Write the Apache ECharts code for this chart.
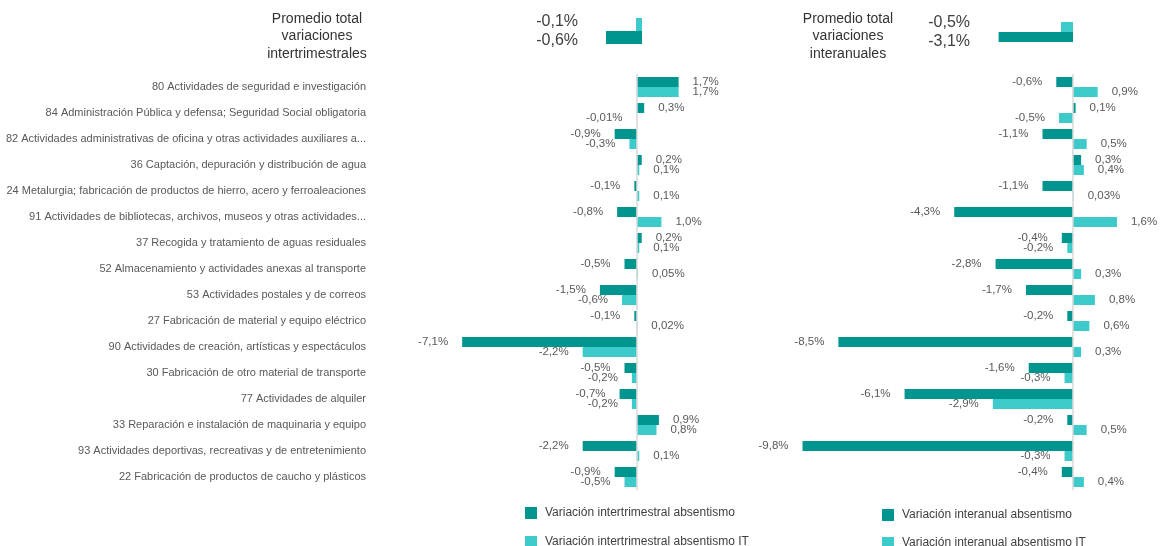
<!DOCTYPE html>
<html><head><meta charset="utf-8">
<script src="https://cdn.jsdelivr.net/npm/echarts@6/dist/echarts.min.js"></script>
<style>html,body{margin:0;padding:0;background:#fff}#c{width:1161px;height:546px}</style>
</head><body><div id="c"></div>
<script>
const categories = [
  "80 Actividades de seguridad e investigación",
  "84 Administración Pública y defensa; Seguridad Social obligatoria",
  "82 Actividades administrativas de oficina y otras actividades auxiliares a...",
  "36 Captación, depuración y distribución de agua",
  "24 Metalurgia; fabricación de productos de hierro, acero y ferroaleaciones",
  "91 Actividades de bibliotecas, archivos, museos y otras actividades...",
  "37 Recogida y tratamiento de aguas residuales",
  "52 Almacenamiento y actividades anexas al transporte",
  "53 Actividades postales y de correos",
  "27 Fabricación de material y equipo eléctrico",
  "90 Actividades de creación, artísticas y espectáculos",
  "30 Fabricación de otro material de transporte",
  "77 Actividades de alquiler",
  "33 Reparación e instalación de maquinaria y equipo",
  "93 Actividades deportivas, recreativas y de entretenimiento",
  "22 Fabricación de productos de caucho y plásticos"
];
const trimAbs  = [1.7, 0.3, -0.9, 0.2, -0.1, -0.8, 0.2, -0.5, -1.5, -0.1, -7.1, -0.5, -0.7, 0.9, -2.2, -0.9];
const trimIT   = [1.7, -0.01, -0.3, 0.1, 0.1, 1.0, 0.1, 0.05, -0.6, 0.02, -2.2, -0.2, -0.2, 0.8, 0.1, -0.5];
const anualAbs = [-0.6, 0.1, -1.1, 0.3, -1.1, -4.3, -0.4, -2.8, -1.7, -0.2, -8.5, -1.6, -6.1, -0.2, -9.8, -0.4];
const anualIT  = [0.9, -0.5, 0.5, 0.4, 0.03, 1.6, -0.2, 0.3, 0.8, 0.6, 0.3, -0.3, -2.9, 0.5, -0.3, 0.4];
const promTrimIT = [-0.1];
const promTrimAbs = [-0.6];
const promAnualIT = [-0.5];
const promAnualAbs = [-3.1];
const names = {
  trimAbs: "Variación intertrimestral absentismo",
  trimIT: "Variación intertrimestral absentismo IT",
  anualAbs: "Variación interanual absentismo",
  anualIT: "Variación interanual absentismo IT"
};
const titleTrim = "Promedio total\nvariaciones\nintertrimestrales";
const titleAnual = "Promedio total\nvariaciones\ninteranuales";

const DARK = '#00958F', LIGHT = '#3CCACA';
const FONT = 'Liberation Sans, Arial, sans-serif';

function fmt(v) {
  const two = Math.abs(v * 10 - Math.round(v * 10)) > 1e-9;
  return v.toFixed(two ? 2 : 1).replace('.', ',') + '%';
}
function barData(arr) {
  return arr.map(v => ({ value: v, label: { position: v < 0 ? 'left' : 'right' } }));
}
const dataLabel = { show: true, distance: 14, fontSize: 11.5, color: '#595959', fontFamily: FONT, formatter: p => fmt(p.value) };

const chart = echarts.init(document.getElementById('c'), null, { renderer: 'canvas' });
const hiddenCat = (grid, data) => ({ type: 'category', gridIndex: grid, data: data, inverse: true, show: false });
const legendItem = (name, left, top) => ({
  data: [name], orient: 'vertical', left: left, top: top, icon: 'rect',
  itemWidth: 12, itemHeight: 12, selectedMode: false, padding: 0, itemGap: 0,
  textStyle: { fontSize: 12, color: '#404040', fontFamily: FONT, padding: [0, 0, 0, 3] }
});
const option = {
  animation: false,
  backgroundColor: '#fff',
  textStyle: { fontFamily: FONT },
  title: [
    { text: titleTrim, left: 317, top: 10, textAlign: 'center', padding: 0,
      textStyle: { fontSize: 14, fontWeight: 'normal', color: '#333', lineHeight: 17.5, fontFamily: FONT } },
    { text: titleAnual, left: 848, top: 10, textAlign: 'center', padding: 0,
      textStyle: { fontSize: 14, fontWeight: 'normal', color: '#333', lineHeight: 17.5, fontFamily: FONT } }
  ],
  legend: [
    legendItem(names.trimAbs, 525, 507),
    legendItem(names.trimIT, 525, 536),
    legendItem(names.anualAbs, 882, 509),
    legendItem(names.anualIT, 882, 537)
  ],
  grid: [
    { left: 582, width: 60, top: 12, height: 38 },
    { left: 977, width: 96, top: 13, height: 38 },
    { left: 440, width: 246, top: 74, height: 416 },
    { left: 797, width: 331, top: 74, height: 416 }
  ],
  xAxis: [
    { type: 'value', gridIndex: 0, min: -1, max: 0, show: false },
    { type: 'value', gridIndex: 1, min: -4, max: 0, show: false },
    { type: 'value', gridIndex: 2, min: -8, max: 2, show: false },
    { type: 'value', gridIndex: 3, min: -10, max: 2, show: false }
  ],
  yAxis: [
    Object.assign(hiddenCat(0, ['p']), { position: 'right' }),
    { type: 'category', gridIndex: 0, inverse: true, position: 'left',
      data: [fmt(promTrimIT[0]), fmt(promTrimAbs[0])],
      axisLine: { show: false }, axisTick: { show: false },
      axisLabel: { interval: 0, margin: 4, fontSize: 16, color: '#404040', fontFamily: FONT } },
    Object.assign(hiddenCat(1, ['p']), { position: 'right' }),
    { type: 'category', gridIndex: 1, inverse: true, position: 'left',
      data: [fmt(promAnualIT[0]), fmt(promAnualAbs[0])],
      axisLine: { show: false }, axisTick: { show: false },
      axisLabel: { interval: 0, margin: 7, fontSize: 16, color: '#404040', fontFamily: FONT } },
    { type: 'category', gridIndex: 2, inverse: true, data: categories,
      axisLine: { show: false, onZero: false }, axisTick: { show: false },
      axisLabel: { interval: 0, margin: 74, fontSize: 11, color: '#595959', fontFamily: FONT } },
    hiddenCat(3, categories)
  ],
  series: [
    { name: 'pTrimIT', type: 'bar', xAxisIndex: 0, yAxisIndex: 0, data: promTrimIT, barWidth: 13, barGap: '0%', itemStyle: { color: LIGHT } },
    { name: 'pTrimAbs', type: 'bar', xAxisIndex: 0, yAxisIndex: 0, data: promTrimAbs, barWidth: 13, barGap: '0%', itemStyle: { color: DARK } },
    { name: 'pAnualIT', type: 'bar', xAxisIndex: 1, yAxisIndex: 2, data: promAnualIT, barWidth: 10, barGap: '0%', itemStyle: { color: LIGHT } },
    { name: 'pAnualAbs', type: 'bar', xAxisIndex: 1, yAxisIndex: 2, data: promAnualAbs, barWidth: 10, barGap: '0%', itemStyle: { color: DARK } },
    { name: names.trimAbs, type: 'bar', xAxisIndex: 2, yAxisIndex: 4, data: barData(trimAbs), barWidth: 10, barGap: '0%',
      itemStyle: { color: DARK }, label: dataLabel,
      markLine: { silent: true, symbol: ['none', 'none'], label: { show: false },
        lineStyle: { color: '#D9D9D9', type: 'solid', width: 1.5 }, data: [{ xAxis: 0 }] } },
    { name: names.trimIT, type: 'bar', xAxisIndex: 2, yAxisIndex: 4, data: barData(trimIT), barWidth: 10, barGap: '0%',
      itemStyle: { color: LIGHT }, label: dataLabel },
    { name: names.anualAbs, type: 'bar', xAxisIndex: 3, yAxisIndex: 5, data: barData(anualAbs), barWidth: 10, barGap: '0%',
      itemStyle: { color: DARK }, label: dataLabel,
      markLine: { silent: true, symbol: ['none', 'none'], label: { show: false },
        lineStyle: { color: '#D9D9D9', type: 'solid', width: 1.5 }, data: [{ xAxis: 0 }] } },
    { name: names.anualIT, type: 'bar', xAxisIndex: 3, yAxisIndex: 5, data: barData(anualIT), barWidth: 10, barGap: '0%',
      itemStyle: { color: LIGHT }, label: dataLabel }
  ]
};
chart.setOption(option);
</script>
</body></html>
